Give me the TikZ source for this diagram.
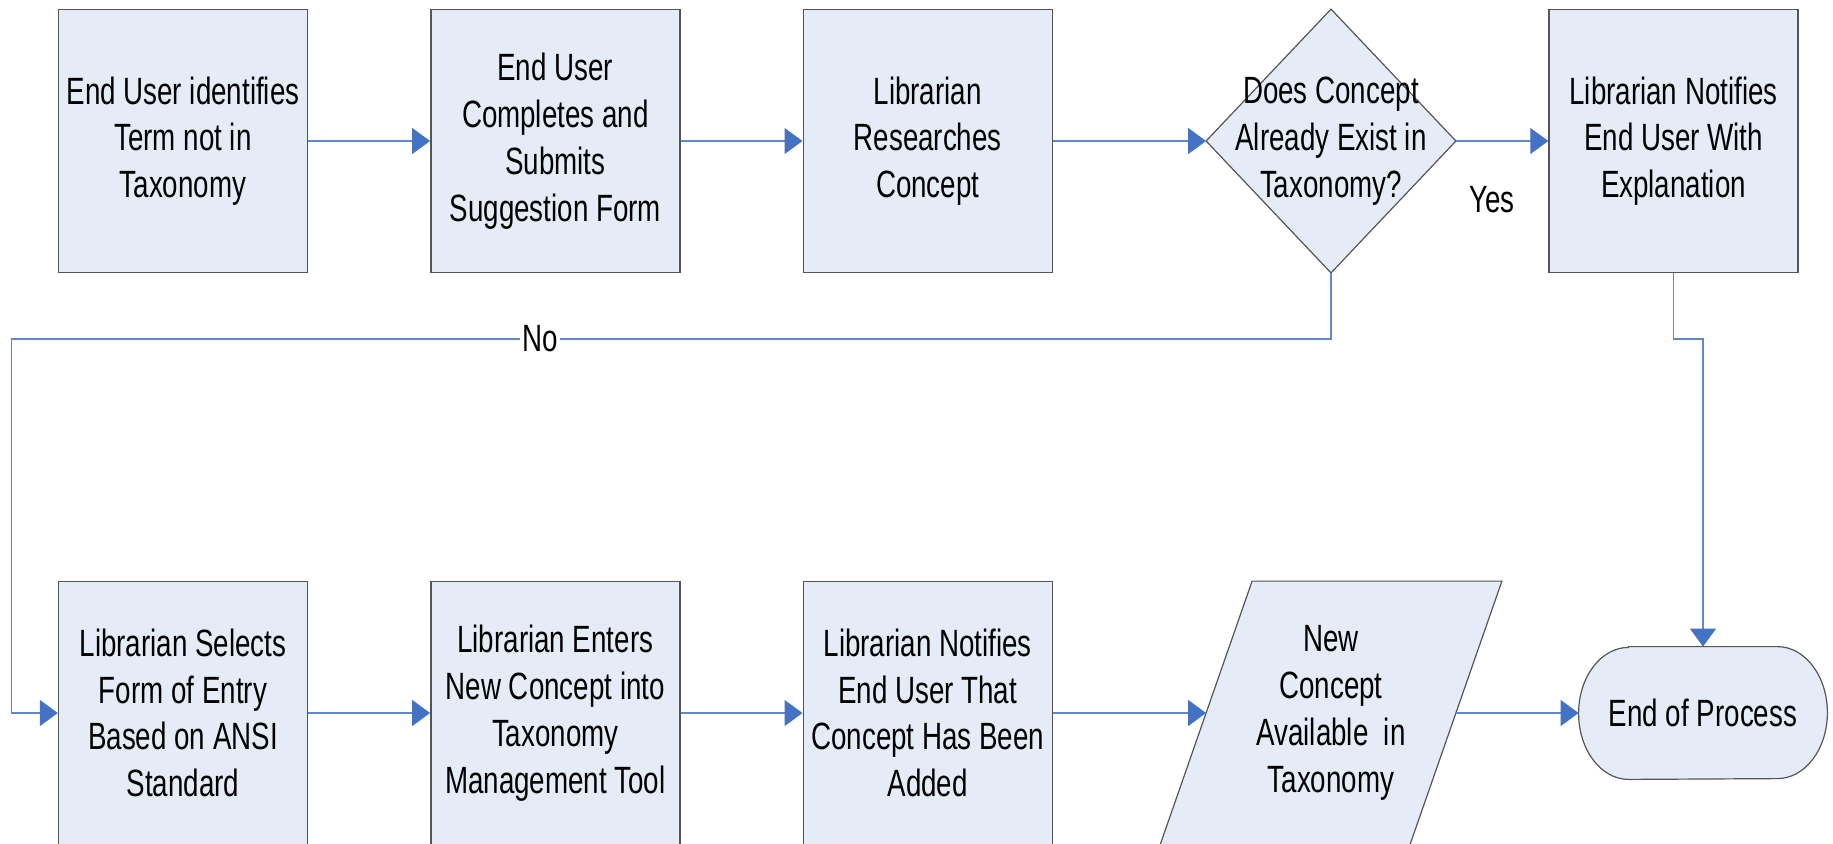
\documentclass[tikz,border=0pt]{standalone}
\usepackage{fontspec}
\setmainfont{Liberation Sans}[FakeStretch=0.73]
\usetikzlibrary{arrows.meta,calc,backgrounds}

\definecolor{boxfill}{RGB}{230,236,247}
\definecolor{boxline}{RGB}{85,85,85}
\definecolor{linkblue}{RGB}{98,136,204}
\definecolor{tipblue}{RGB}{68,114,196}

\tikzset{
  txt/.style={font=\fontsize{19}{23.4}\selectfont, align=center, inner sep=0pt},
  procbox/.style={txt, draw=boxline, fill=boxfill, line width=0.7pt,
    minimum width=124.5pt, minimum height=131.5pt},
  frame/.style={txt, minimum width=124.5pt, minimum height=131.5pt},
  outline/.style={draw=boxline, fill=boxfill, line width=0.6pt},
  conn/.style={draw=linkblue, line width=0.6pt,
    -{Triangle[length=9pt,width=13pt,color=tipblue]}},
  plain/.style={draw=linkblue, line width=0.6pt},
  lbl/.style={txt}
}

\begin{document}
\begin{tikzpicture}[x=0.5pt, y=-0.5pt]
\useasboundingbox (0,0) rectangle (1833,843);

% top row
\node[procbox] (b1) at (183,141) {End User identifies\\Term not in\\Taxonomy};
\node[procbox] (b2) at (555.3,141) {End User\\Completes and\\Submits\\Suggestion Form};
\node[procbox] (b3) at (927.7,141) {Librarian\\Researches\\Concept};
\node[frame]   (dec) at (1331,141) {Does Concept\\Already Exist in\\Taxonomy?};
\node[procbox] (b5) at (1673.5,141) {Librarian Notifies\\End User With\\Explanation};

% bottom row
\node[procbox] (b6) at (183,713) {Librarian Selects\\Form of Entry\\Based on ANSI\\Standard};
\node[procbox] (b7) at (555.3,713) {Librarian Enters\\New Concept into\\Taxonomy\\Management Tool};
\node[procbox] (b8) at (927.7,713) {Librarian Notifies\\End User That\\Concept Has Been\\Added};
\node[frame]   (para) at (1331,713) {New\\Concept\\Available\ \ in\\Taxonomy};
\node[txt, minimum width=124pt, minimum height=66pt] (endp) at (1703,713) {End of Process};

% outlines of the non-rectangular shapes
\begin{scope}[on background layer]
  \path[outline] (dec.north) -- (dec.east) -- (dec.south) -- (dec.west) -- cycle;
  \path[outline] ($(para.north west)+(46,0)$) -- ($(para.north east)+(46,0)$)
     -- ($(para.south east)+(-46,0)$) -- ($(para.south west)+(-46,0)$) -- cycle;
  \path[outline] ([xshift=25pt]endp.north west) -- ([xshift=-25pt]endp.north east)
     arc[start angle=90, end angle=-90, x radius=25pt, y radius=33pt]
     -- ([xshift=25pt]endp.south west)
     arc[start angle=270, end angle=90, x radius=25pt, y radius=33pt] -- cycle;
\end{scope}

% bend points of the routed connectors
\coordinate (nobend) at (11.7,339);
\coordinate (yesbend) at (1703,339);

% connectors
\draw[conn] (b1) -- (b2);
\draw[conn] (b2) -- (b3);
\draw[conn] (b3) -- (dec.west);
\draw[conn] (dec.east) -- (b5);
\draw[conn] (dec.south) |- (nobend) |- (b6.west);
\draw[conn] (b5.south) |- (yesbend) -- (endp.north);
\draw[conn] (b6) -- (b7);
\draw[conn] (b7) -- (b8);
\draw[conn] (b8) -- (para.west);
\draw[conn] (para.east) -- (endp.west);

% branch labels
\node[lbl] (yes) at (1492,200) {Yes};
\node[lbl, fill=white, inner xsep=1pt] (no) at (540,339) {No};
\end{tikzpicture}
\end{document}
